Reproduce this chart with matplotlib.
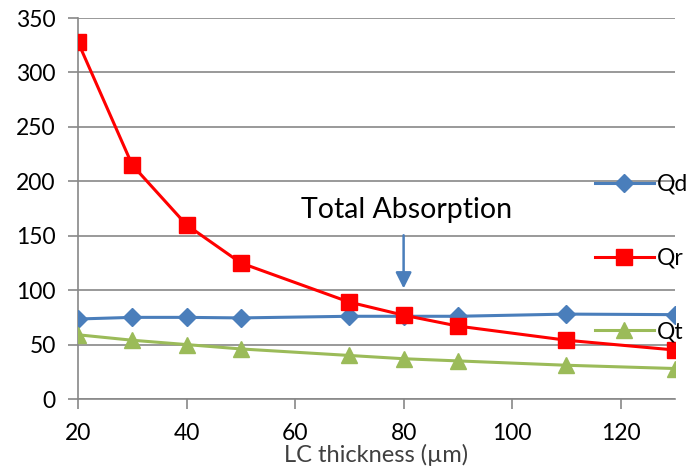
import matplotlib
matplotlib.use("Agg")
import matplotlib.pyplot as plt

thickness = [20, 30, 40, 50, 70, 80, 90, 110, 130]
qd = [73.5, 75, 75, 74.5, 76, 76, 76, 78, 77.5]
qr = [328, 215, 160, 125, 89, 77, 67, 54, 45]
qt = [59, 54, 50, 46, 40, 37, 35, 31, 28]
x_ticks = [20, 40, 60, 80, 100, 120]
y_ticks = [0, 50, 100, 150, 200, 250, 300, 350]

plt.rcParams['font.family'] = ['Lato', 'DejaVu Sans']

fig = plt.figure(figsize=(6.87, 4.75), dpi=100)
ax = fig.add_axes([0.1135, 0.16, 0.869, 0.802])

ax.plot(thickness, qd, color='#4A7EBB', lw=2.2, marker='D', ms=9, label='Qd', zorder=3)
ax.plot(thickness, qr, color='#FF0000', lw=2.2, marker='s', ms=12, label='Qr', zorder=4)
ax.plot(thickness, qt, color='#9BBB59', lw=2.2, marker='^', ms=11, label='Qt', zorder=3)

ax.set_xlim(20, 130)
ax.set_ylim(0, 350)
ax.set_xticks(x_ticks)
ax.set_yticks(y_ticks)
ax.yaxis.grid(True, color='#888888', lw=1.2)
ax.set_axisbelow(True)
for s in ['top', 'right']:
    ax.spines[s].set_visible(False)
for s in ['left', 'bottom']:
    ax.spines[s].set_color('#888888')
    ax.spines[s].set_linewidth(1.2)
ax.tick_params(axis='both', colors='#888888', length=7, width=1.2, labelsize=16.5, labelcolor='black')
ax.tick_params(axis='x', pad=10)
ax.tick_params(axis='y', pad=9)
ax.set_xlabel('LC thickness (µm)', fontsize=17, labelpad=0, color='#404040')

ax.annotate('', xy=(80, 99), xytext=(80, 153),
            arrowprops=dict(arrowstyle='-|>', color='#4A7EBB', lw=1.8, mutation_scale=24))
ax.text(80.5, 174, 'Total Absorption', fontsize=20.5, ha='center', va='center')

leg = ax.legend(loc='center left', bbox_to_anchor=(0.85, 0.37), frameon=False, fontsize=16.5,
                handlelength=2.6, labelspacing=2.3, handletextpad=0.1, borderaxespad=0)
leg.set_clip_on(False)

fig.savefig('out.png', dpi=100)
